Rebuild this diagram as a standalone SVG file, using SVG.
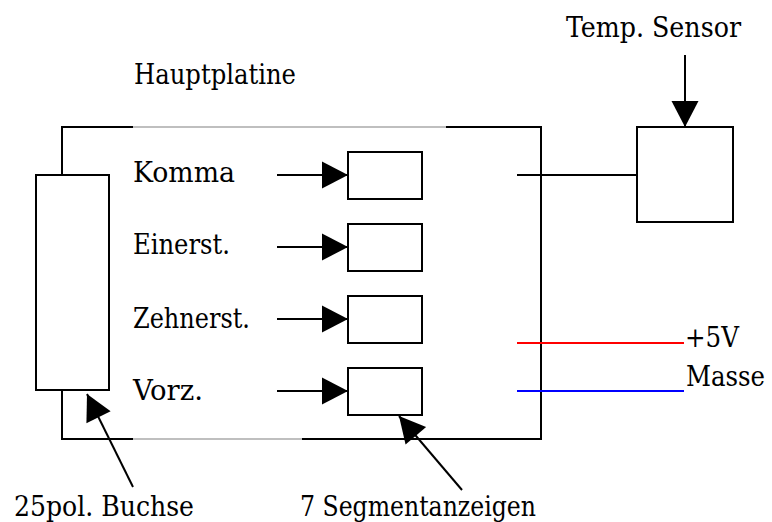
<svg xmlns="http://www.w3.org/2000/svg" width="772" height="522" viewBox="0 0 772 522">
<style>
.k{fill:none;stroke:#000;stroke-width:2}
.g{fill:none;stroke:#808080;stroke-width:1.2}
.box{fill:#fff;stroke:#000;stroke-width:2}
text{font-family:'DejaVu Serif Condensed', 'DejaVu Serif', serif;font-stretch:condensed;font-size:27px;fill:#000}
.ah{fill:#000;stroke:none}
</style>
<defs>
<marker id="arr" markerUnits="userSpaceOnUse" markerWidth="28" markerHeight="28" viewBox="0 -14 26 28" refX="26" refY="0" orient="auto">
<path class="ah" d="M0,-13.5 L26,0 L0,13.5 Z"/>
</marker>
</defs>
<rect width="772" height="522" fill="#fff"/>
<g id="hauptplatine">
<path class="k" d="M133,127 H62 V175 M62,390 V439 H133"/>
<path class="g" d="M133,127 H446 M133,439 H302"/>
<path class="k" d="M446,127 H541 V439 H302"/>
<text x="134" y="84" textLength="162" lengthAdjust="spacingAndGlyphs">Hauptplatine</text>
</g>
<g id="buchse"><rect class="box" x="36" y="175" width="73" height="215"/></g>
<g id="seg-komma"><rect class="box" x="348" y="152" width="74" height="47"/><text x="133" y="182" textLength="102" lengthAdjust="spacingAndGlyphs">Komma</text></g>
<g id="seg-einer"><rect class="box" x="348" y="224" width="74" height="47"/><text x="133" y="254" textLength="97" lengthAdjust="spacingAndGlyphs">Einerst.</text></g>
<g id="seg-zehner"><rect class="box" x="348" y="296" width="74" height="47"/><text x="133" y="328" textLength="117" lengthAdjust="spacingAndGlyphs">Zehnerst.</text></g>
<g id="seg-vorz"><rect class="box" x="348" y="368" width="74" height="47"/><text x="133" y="400" textLength="70" lengthAdjust="spacingAndGlyphs">Vorz.</text></g>
<g id="sensor"><rect class="box" x="637" y="127" width="96" height="95"/><text x="566" y="37" textLength="175" lengthAdjust="spacingAndGlyphs">Temp. Sensor</text></g>
<g id="labels">
<text x="685" y="347" textLength="54" lengthAdjust="spacingAndGlyphs">+5V</text>
<text x="686" y="386" textLength="79" lengthAdjust="spacingAndGlyphs">Masse</text>
<text x="14" y="516" textLength="180" lengthAdjust="spacingAndGlyphs">25pol. Buchse</text>
<text x="300" y="516" textLength="236" lengthAdjust="spacingAndGlyphs">7 Segmentanzeigen</text>
</g>
<g id="connectors">
<line class="k" x1="277" y1="175" x2="348" y2="175" marker-end="url(#arr)"/>
<line class="k" x1="277" y1="247" x2="348" y2="247" marker-end="url(#arr)"/>
<line class="k" x1="277" y1="319" x2="348" y2="319" marker-end="url(#arr)"/>
<line class="k" x1="277" y1="391" x2="348" y2="391" marker-end="url(#arr)"/>
<line class="k" x1="685" y1="55" x2="685" y2="127" marker-end="url(#arr)"/>
<line class="k" x1="133" y1="487" x2="87" y2="394" marker-end="url(#arr)"/>
<line class="k" x1="462" y1="490" x2="399" y2="416" marker-end="url(#arr)"/>
<line class="k" x1="517" y1="175" x2="637" y2="175"/>
<line x1="517" y1="343" x2="684" y2="343" stroke="#ff0000" stroke-width="2"/>
<line x1="517" y1="391" x2="684" y2="391" stroke="#0000ff" stroke-width="2"/>
</g>
</svg>
